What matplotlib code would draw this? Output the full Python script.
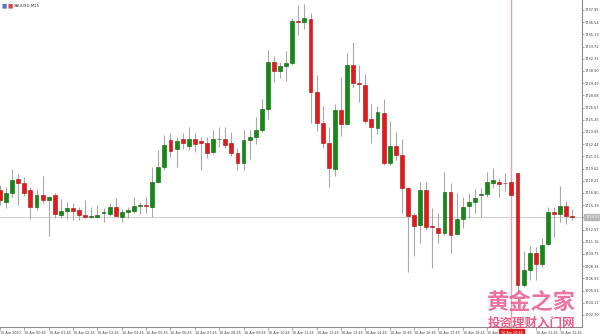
import matplotlib
matplotlib.use("Agg")
import matplotlib.pyplot as plt

# XAUUSD M15 candles
opens = [1717.14, 1715.75, 1716.79, 1718.41, 1717.95, 1717.14, 1715.18, 1716.56, 1715.99, 1716.56,
         1714.25, 1714.71, 1715.06, 1714.83, 1714.25, 1714.02, 1714.02, 1714.45, 1714.37, 1715.18,
         1714.02, 1714.60, 1714.71, 1715.29, 1715.29, 1715.18, 1718.07, 1719.80, 1722.92, 1721.88,
         1723.04, 1722.23, 1723.04, 1722.80, 1722.57, 1721.53, 1722.98, 1723.04, 1722.57, 1721.42,
         1720.26, 1722.92, 1723.27, 1724.08, 1726.50, 1731.93, 1730.89, 1731.47, 1731.82, 1736.67,
         1736.56, 1736.90, 1728.47, 1724.89, 1722.57, 1719.57, 1726.39, 1724.77, 1731.59, 1729.51,
         1729.28, 1725.35, 1724.31, 1726.04, 1720.26, 1722.23, 1721.19, 1717.37, 1714.25, 1713.10,
         1717.14, 1712.87, 1712.75, 1712.17, 1716.91, 1712.06, 1713.79, 1715.29, 1715.75, 1716.62,
         1716.68, 1717.95, 1718.07, 1717.95, 1718.07, 1719.11, 1706.16, 1707.90, 1709.86, 1708.59,
         1710.90, 1714.60, 1714.37, 1715.29, 1714.14]
highs = [1717.72, 1717.49, 1719.57, 1718.99, 1718.64, 1717.49, 1717.26, 1718.76, 1716.45, 1716.79,
         1716.10, 1715.75, 1715.64, 1715.18, 1715.99, 1715.18, 1715.41, 1715.06, 1715.64, 1716.22,
         1714.95, 1715.18, 1716.33, 1715.75, 1716.33, 1719.80, 1721.76, 1723.50, 1723.73, 1723.27,
         1723.73, 1724.42, 1723.73, 1723.27, 1723.27, 1724.08, 1724.42, 1724.42, 1723.84, 1722.00,
         1724.08, 1724.08, 1725.58, 1727.66, 1733.32, 1732.63, 1731.93, 1733.21, 1737.02, 1738.52,
         1738.64, 1737.60, 1730.43, 1726.85, 1724.42, 1727.08, 1730.20, 1732.97, 1734.25, 1731.59,
         1730.55, 1727.08, 1726.85, 1727.66, 1725.12, 1723.84, 1723.04, 1717.49, 1714.48, 1718.07,
         1718.07, 1715.06, 1714.48, 1719.22, 1717.95, 1716.79, 1716.33, 1716.79, 1717.26, 1717.37,
         1719.22, 1719.68, 1718.53, 1719.11, 1718.30, 1719.11, 1710.09, 1710.67, 1710.55, 1711.59,
         1715.18, 1715.18, 1717.60, 1715.87, 1714.95]
lows = [1715.41, 1715.06, 1716.33, 1715.41, 1716.45, 1713.79, 1714.83, 1715.64, 1711.83, 1713.91,
        1713.91, 1713.79, 1713.67, 1713.67, 1713.91, 1713.91, 1713.91, 1713.44, 1714.14, 1714.02,
        1713.44, 1713.91, 1714.48, 1714.37, 1714.48, 1714.02, 1717.95, 1719.45, 1720.96, 1719.80,
        1721.88, 1721.76, 1721.53, 1719.45, 1720.84, 1721.30, 1722.11, 1722.00, 1721.07, 1719.45,
        1719.45, 1720.72, 1722.46, 1723.84, 1725.35, 1729.62, 1730.09, 1729.74, 1731.59, 1735.06,
        1735.75, 1724.89, 1723.96, 1722.00, 1717.49, 1718.76, 1723.38, 1724.77, 1729.05, 1727.31,
        1724.89, 1722.57, 1723.61, 1720.03, 1720.03, 1720.61, 1714.48, 1707.66, 1709.51, 1711.02,
        1712.52, 1708.13, 1711.02, 1711.94, 1709.86, 1711.94, 1712.75, 1713.91, 1714.48, 1714.02,
        1716.33, 1717.37, 1716.33, 1717.03, 1716.56, 1705.24, 1705.93, 1706.74, 1706.74, 1708.24,
        1710.79, 1711.71, 1713.44, 1713.21, 1713.67]
closes = [1715.99, 1716.79, 1718.30, 1717.95, 1716.79, 1715.18, 1716.56, 1715.99, 1716.33, 1714.37,
          1714.71, 1715.06, 1714.71, 1714.25, 1714.02, 1714.07, 1714.25, 1714.48, 1715.18, 1714.14,
          1714.60, 1714.83, 1715.29, 1715.31, 1715.27, 1718.07, 1719.80, 1722.34, 1721.65, 1722.80,
          1722.57, 1723.04, 1722.46, 1722.63, 1721.42, 1723.04, 1723.04, 1722.34, 1721.42, 1720.26,
          1722.92, 1723.27, 1724.08, 1726.50, 1731.93, 1730.89, 1731.47, 1731.82, 1736.67, 1736.56,
          1737.02, 1728.47, 1724.89, 1722.57, 1719.68, 1726.39, 1724.77, 1731.59, 1729.51, 1729.45,
          1725.12, 1724.42, 1726.16, 1720.26, 1722.23, 1721.19, 1717.37, 1714.14, 1712.98, 1717.14,
          1712.87, 1712.85, 1712.17, 1716.91, 1711.94, 1713.79, 1715.18, 1715.75, 1716.22, 1716.68,
          1718.07, 1718.30, 1717.83, 1717.90, 1716.56, 1706.16, 1707.90, 1709.86, 1708.59, 1710.79,
          1714.60, 1714.37, 1715.29, 1714.14, 1714.02]

price_ticks = [1737.95, 1736.54, 1735.13, 1733.72, 1732.31, 1730.90, 1729.49, 1728.08, 1726.67,
               1725.26, 1723.85, 1722.44, 1721.03, 1719.62, 1718.21, 1716.80, 1715.39, 1713.98,
               1712.57, 1711.16, 1709.75, 1708.34, 1706.93, 1705.52, 1704.11, 1702.70]
time_labels = ["15 Apr 2020", "16 Apr 00:45", "16 Apr 01:45", "16 Apr 02:45", "16 Apr 03:45",
               "16 Apr 04:45", "16 Apr 05:45", "16 Apr 06:45", "16 Apr 07:45", "16 Apr 08:45",
               "16 Apr 09:45", "16 Apr 10:45", "16 Apr 11:45", "16 Apr 12:45", "16 Apr 13:45",
               "16 Apr 14:45", "16 Apr 15:45", "16 Apr 16:45", "16 Apr 17:45", "16 Apr 18:45",
               "16 Apr 19:45", "16 Apr 20:45", "16 Apr 21:45", "16 Apr 22:45"]
label_every = 4
cursor_bar = 84
cursor_label = "16 Apr 20:45"
symbol = "XAUUSD,M15"

green = "#138a13"
red = "#e3191b"
ymin, ymax = 1701.31, 1739.10

fig = plt.figure(figsize=(6, 3.34), dpi=100)
ax = fig.add_axes([0, 7 / 334, 582 / 600, 327 / 334])

n = len(opens)
xs = list(range(n))
for i in xs:
    o, h, l, c = opens[i], highs[i], lows[i], closes[i]
    ax.vlines(i, l, h, color="#a8a8a8", lw=0.8, zorder=1)
    if c > o:
        col, edge = green, "#0b5e0b"
    elif c < o:
        col, edge = red, "#a81010"
    else:
        col, edge = "#303050", "#303050"
    lo = min(o, c)
    hgt = max(abs(c - o), 0.1)
    ax.bar(i, hgt, bottom=lo, width=0.64, color=col, edgecolor=edge, lw=0.4, zorder=2)

# current price line and crosshair line
bid = closes[-1]
ax.axhline(bid, color="#cfcfcf", lw=0.7, zorder=0)
ax.axvline(cursor_bar, color="#e8a4a8", lw=1.0, zorder=0)

ax.set_xlim(0.18, 95.59)
ax.set_ylim(ymin, ymax)

for s in ["top", "left"]:
    ax.spines[s].set_visible(False)
for s in ["right", "bottom"]:
    ax.spines[s].set_color("#8c8c8c")
    ax.spines[s].set_linewidth(0.8)

ax.yaxis.tick_right()
ax.set_yticks(price_ticks)
ax.set_yticklabels([f"{p:.2f}" for p in price_ticks])
ax.tick_params(axis="y", length=1.5, width=0.5, color="#808080", pad=0.6,
               labelsize=2.5, labelcolor="#404040")

ax.set_xticks(xs[::label_every])
ax.set_xticklabels(time_labels)
ax.tick_params(axis="x", length=2, width=0.5, color="#808080", pad=0.8,
               labelsize=2.4, labelcolor="#404040")
for t in ax.get_xticklabels():
    t.set_horizontalalignment("left")
    if t.get_text() == cursor_label:
        t.set_visible(False)  # hidden under the crosshair label
for t in ax.get_yticklabels():
    if abs(float(t.get_text()) - bid) < 0.3:
        t.set_visible(False)  # hidden under the price marker

# price marker on the right axis
ax.text(1.006, (bid - ymin) / (ymax - ymin), f"{bid:.2f}", transform=ax.transAxes,
        fontsize=2.5, color="white", va="center", ha="left", clip_on=False,
        bbox=dict(boxstyle="square,pad=0.35", fc="#b8b8b8", ec="#b8b8b8"), zorder=5)

# crosshair time label
ax.text(cursor_bar, ymin - 0.45, cursor_label, fontsize=2.4, color="white",
        ha="center", va="top", clip_on=False,
        bbox=dict(boxstyle="square,pad=0.5", fc="#e02020", ec="#e02020"), zorder=6)

# symbol caption top-left
fig.text(2 / 600, 1 - 6 / 334, "\u25a0", fontsize=4, color="#5570c8", va="center", ha="left")
fig.text(7 / 600, 1 - 6 / 334, "\u25a0", fontsize=4, color="#e04040", va="center", ha="left")
fig.text(14 / 600, 1 - 6 / 334, symbol, fontsize=2.8, color="#303030", va="center", ha="left")

# watermark
cjk = ["Noto Sans CJK SC", "DejaVu Sans"]
fig.text(531 / 600, 1 - 302 / 334, "黄金之家", family=cjk, fontsize=16, weight="bold",
         color="#e8508a", alpha=0.8, ha="center", va="center", zorder=10)
fig.text(531 / 600, 1 - 323 / 334, "投资理财入门网", family=cjk, fontsize=9, weight="bold",
         color="#e23a6e", alpha=0.8, ha="center", va="center", zorder=10)

fig.savefig("out.png", dpi=100)
